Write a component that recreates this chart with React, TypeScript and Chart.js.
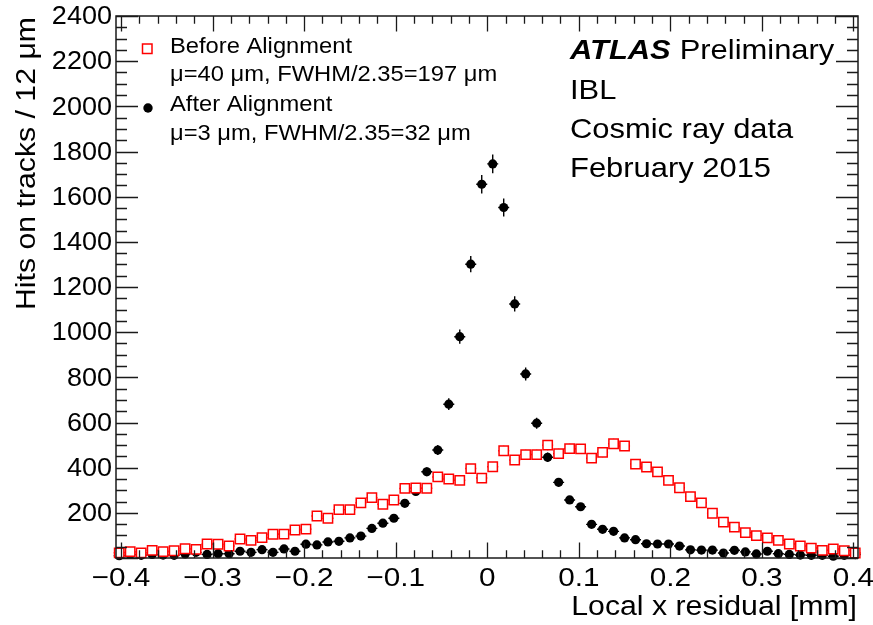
import React, { useEffect, useRef } from "react";
import { Chart, registerables } from "chart.js";

Chart.register(...registerables);

// Histogram binning: 12 µm bins
const BIN_LOW = -0.408;
const BIN_WIDTH = 0.012;

// Before Alignment (red open squares), hits per bin
const BEFORE = [
  23, 28, 23, 34, 28, 32, 41, 38, 62, 61, 53, 84, 78,
  90, 105, 106, 124, 128, 186, 176, 214, 214, 244, 267, 238, 257,
  308, 310, 309, 359, 350, 344, 396, 354, 404, 475, 434, 458, 458,
  500, 462, 484, 483, 442, 468, 506, 496, 416, 403, 381, 344, 311,
  272, 244, 198, 159, 137, 112, 99, 89, 78, 62, 53, 44, 34, 40, 32, 22,
];

// After Alignment (black filled circles), hits per bin
const AFTER = [
  10, 16, 12, 16, 13, 12, 18, 25, 16, 19, 19, 30, 25,
  37, 25, 40, 30, 61, 58, 71, 74, 89, 97, 131, 154, 176,
  242, 295, 382, 478, 681, 980, 1301, 1655, 1745, 1552, 1125, 815, 597,
  446, 335, 257, 227, 149, 127, 118, 89, 81, 63, 62, 62, 53,
  36, 35, 35, 22, 34, 27, 18, 30, 19, 16, 13, 12, 12, 8, 12, 15,
];

const X_MIN = -0.4055;
const X_MAX = 0.405;
const Y_MIN = 0;
const Y_MAX = 2400;

const X_TICKS = [-0.4, -0.3, -0.2, -0.1, 0, 0.1, 0.2, 0.3, 0.4];
const X_TICK_LABELS = ["\u22120.4", "\u22120.3", "\u22120.2", "\u22120.1", "0", "0.1", "0.2", "0.3", "0.4"];
const Y_TICKS = [200, 400, 600, 800, 1000, 1200, 1400, 1600, 1800, 2000, 2200, 2400];
const Y_TICK_LABELS = ["200", "400", "600", "800", "1000", "1200", "1400", "1600", "1800", "2000", "2200", "2400"];
const X_MINOR_STEP = 0.02;
const Y_MINOR_STEP = 50;

const X_TITLE = "Local x residual [mm]";
const Y_TITLE = "Hits on tracks / 12 \u03bcm";
const LEGEND = [
  { label: "Before Alignment", info: "\u03bc=40 \u03bcm, FWHM/2.35=197 \u03bcm" },
  { label: "After Alignment", info: "\u03bc=3 \u03bcm, FWHM/2.35=32 \u03bcm" },
];
const ATLAS_LINES = ["IBL", "Cosmic ray data", "February 2015"];

const RED = "rgb(255,0,0)";
const FONT = '"Liberation Sans", Arial, Helvetica, sans-serif';
const SX = 1.12;

function toPoints(vals: number[]) {
  return vals.map((v, i) => ({ x: BIN_LOW + BIN_WIDTH * (i + 0.5), y: v }));
}

function drawText(
  ctx: CanvasRenderingContext2D,
  s: string,
  x: number,
  y: number,
  size: number,
  align: CanvasTextAlign = "left",
  font: string = "normal normal",
  rot = 0,
  sx = SX
) {
  ctx.save();
  ctx.translate(x, y);
  if (rot) ctx.rotate(rot);
  ctx.scale(sx, 1);
  ctx.font = `${font} ${size}px ${FONT}`;
  ctx.textAlign = align;
  ctx.textBaseline = "middle";
  ctx.fillStyle = "#000";
  ctx.fillText(s, 0, 0);
  const w = ctx.measureText(s).width * sx;
  ctx.restore();
  return w;
}

const errorBars = {
  id: "errorBars",
  beforeDatasetsDraw(chart: any) {
    const ctx = chart.ctx as CanvasRenderingContext2D;
    const xs = chart.scales.x;
    const ys = chart.scales.y;
    chart.data.datasets.forEach((ds: any) => {
      ctx.save();
      ctx.strokeStyle = ds.borderColor;
      ctx.lineWidth = 1.4;
      ds.data.forEach((p: any) => {
        const px = xs.getPixelForValue(p.x);
        const py = ys.getPixelForValue(p.y);
        const e = Math.sqrt(p.y);
        ctx.beginPath();
        ctx.moveTo(px, ys.getPixelForValue(p.y - e));
        ctx.lineTo(px, ys.getPixelForValue(p.y + e));
        ctx.moveTo(xs.getPixelForValue(p.x - BIN_WIDTH / 2), py);
        ctx.lineTo(xs.getPixelForValue(p.x + BIN_WIDTH / 2), py);
        ctx.stroke();
      });
      ctx.restore();
    });
  },
};

const frameAndText = {
  id: "frameAndText",
  afterDraw(chart: any) {
    const ctx = chart.ctx as CanvasRenderingContext2D;
    const a = chart.chartArea;
    const xs = chart.scales.x;
    const ys = chart.scales.y;
    ctx.save();
    ctx.strokeStyle = "#1a1a1a";
    ctx.lineWidth = 1.5;
    ctx.strokeRect(a.left, a.top, a.right - a.left, a.bottom - a.top);

    ctx.beginPath();
    // x ticks (bottom and top)
    for (let v = -0.4; v <= 0.4001; v += X_MINOR_STEP) {
      const r = Math.round(v * 100) / 100;
      const major = Math.abs(r * 10 - Math.round(r * 10)) < 1e-6;
      const len = major ? 15.5 : 7.7;
      const px = Math.round(xs.getPixelForValue(r)) + 0.5;
      ctx.moveTo(px, a.bottom);
      ctx.lineTo(px, a.bottom - len);
      ctx.moveTo(px, a.top);
      ctx.lineTo(px, a.top + len);
    }
    // y ticks (left and right)
    for (let v = 0; v <= 2400; v += Y_MINOR_STEP) {
      const major = v % 200 === 0;
      const len = major ? 22 : 11;
      const py = Math.round(ys.getPixelForValue(v)) + 0.5;
      ctx.moveTo(a.left, py);
      ctx.lineTo(a.left + len, py);
      ctx.moveTo(a.right, py);
      ctx.lineTo(a.right - len, py);
    }
    ctx.lineWidth = 1.3;
    ctx.stroke();

    // tick labels
    X_TICKS.forEach((v, i) => {
      drawText(ctx, X_TICK_LABELS[i], xs.getPixelForValue(v), 579, 26.5, "center");
    });
    Y_TICKS.forEach((v, i) => {
      drawText(ctx, Y_TICK_LABELS[i], 112, ys.getPixelForValue(v) + 1, 26.5, "right", "normal normal", 0, 1.02);
    });

    // axis titles
    drawText(ctx, X_TITLE, 857, 608, 27, "right");
    drawText(ctx, Y_TITLE, 28, 17, 27, "right", "normal normal", -Math.PI / 2);

    // legend
    ctx.save();
    ctx.lineWidth = 1.5;
    ctx.strokeStyle = RED;
    ctx.fillStyle = "#fff";
    ctx.beginPath();
    ctx.rect(142.5, 44, 9.5, 9.5);
    ctx.fill();
    ctx.stroke();
    ctx.fillStyle = "#000";
    ctx.beginPath();
    ctx.arc(148, 108, 4.7, 0, Math.PI * 2);
    ctx.fill();
    ctx.restore();
    drawText(ctx, LEGEND[0].label, 170, 47, 21.2);
    drawText(ctx, LEGEND[0].info, 170, 75, 21.2);
    drawText(ctx, LEGEND[1].label, 170, 105, 21.2);
    drawText(ctx, LEGEND[1].info, 170, 134, 21.2);

    // ATLAS label
    const w = drawText(ctx, "ATLAS", 570, 51, 27.6, "left", "italic bold");
    drawText(ctx, "Preliminary", 570 + w + 9, 51, 27.6);
    ATLAS_LINES.forEach((s, i) => drawText(ctx, s, 570, 91 + i * 39, 27.6));
    ctx.restore();
  },
};

export default function App() {
  const ref = useRef<HTMLCanvasElement | null>(null);
  useEffect(() => {
    document.body.style.margin = "0";
    const chart = new Chart(ref.current as HTMLCanvasElement, {
      type: "scatter",
      data: {
        datasets: [
          {
            label: LEGEND[0].label,
            data: toPoints(BEFORE),
            pointStyle: "rect",
            pointRadius: 6.6,
            pointBorderWidth: 1.5,
            borderColor: RED,
            backgroundColor: "#fff",
            clip: false as any,
          },
          {
            label: LEGEND[1].label,
            data: toPoints(AFTER),
            pointStyle: "circle",
            pointRadius: 4.6,
            pointBorderWidth: 0,
            borderColor: "#000",
            backgroundColor: "#000",
            clip: false as any,
          },
        ],
      },
      options: {
        animation: false,
        responsive: false,
        devicePixelRatio: 1,
        layout: { padding: { left: 116, right: 15, top: 16, bottom: 67 } },
        plugins: { legend: { display: false }, tooltip: { enabled: false } },
        scales: {
          x: { type: "linear", min: X_MIN, max: X_MAX, display: false },
          y: { type: "linear", min: Y_MIN, max: Y_MAX, display: false },
        },
      },
      plugins: [errorBars, frameAndText],
    });
    return () => chart.destroy();
  }, []);
  return (
    <div style={{ position: "fixed", left: 0, top: 0, width: 873, height: 625, background: "#fff" }}>
      <canvas ref={ref} width={873} height={625} />
    </div>
  );
}
